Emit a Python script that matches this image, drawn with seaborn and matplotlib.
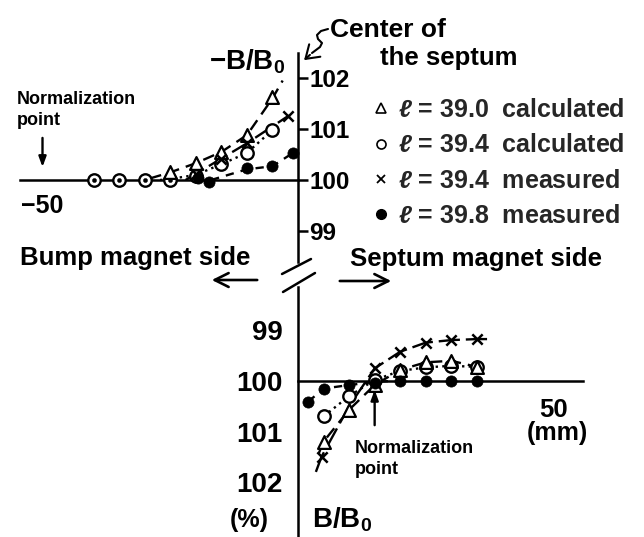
import matplotlib
matplotlib.use("Agg")
import matplotlib.pyplot as plt
import seaborn as sns
from matplotlib.lines import Line2D

# ---------------- data (x: mm from septum centre, y: % of B0) ----------------
# upper panel  (-B/B0, bump magnet side)
up_tri_x = [-25, -20, -15, -10, -5]
up_tri_y = [100.15, 100.33, 100.54, 100.88, 101.62]
up_cir_x = [-40, -35, -30, -25, -20, -15, -10, -5]
up_cir_y = [100.0, 100.0, 100.0, 100.0, 100.08, 100.31, 100.53, 100.98]
up_crs_x = [-20, -15, -10, -2]
up_crs_y = [100.12, 100.42, 100.72, 101.25]
up_dot_x = [-19.5, -17.5, -10, -5, -1]
up_dot_y = [100.04, 99.96, 100.23, 100.27, 100.53]
up_ctr_x = [-40, -35, -30, -25]          # dots seen inside the circles
up_ctr_y = [100.0, 100.0, 100.0, 100.0]

# fitted curves, upper panel
up_tri_cx = [-29, -25, -20, -15, -10, -5, -3]
up_tri_cy = [100.03, 100.15, 100.33, 100.55, 100.88, 101.6, 101.95]
up_cir_cx = [-27, -25, -20, -15, -10, -5]
up_cir_cy = [100.0, 100.02, 100.1, 100.31, 100.53, 100.98]
up_crs_cx = [-22, -20, -15, -10, -2]
up_crs_cy = [100.0, 100.12, 100.42, 100.72, 101.25]
up_dot_cx = [-17, -10, -5, -1]
up_dot_cy = [100.0, 100.21, 100.27, 100.53]

# lower panel  (B/B0, septum magnet side)
lo_tri_x = [5, 10, 15, 20, 25, 30, 35]
lo_tri_y = [101.2, 100.57, 100.08, 99.78, 99.63, 99.6, 99.72]
lo_cir_x = [5, 10, 15, 20, 25, 30, 35]
lo_cir_y = [100.7, 100.3, 99.98, 99.8, 99.73, 99.7, 99.72]
lo_crs_x = [4.6, 15, 20, 25, 30, 35]
lo_crs_y = [101.5, 99.75, 99.42, 99.24, 99.19, 99.17]
lo_dot_x = [2, 5, 10, 15, 20, 25, 30, 35]
lo_dot_y = [100.41, 100.15, 100.08, 100.03, 100.0, 100.0, 100.0, 100.0]

lo_tri_cx = [4, 5, 10, 15, 20, 25, 30, 35]
lo_tri_cy = [101.45, 101.2, 100.57, 100.08, 99.78, 99.63, 99.6, 99.72]
lo_cir_cx = [5, 10, 15, 20, 25, 30, 35]
lo_cir_cy = [100.7, 100.3, 99.98, 99.8, 99.73, 99.7, 99.72]
lo_crs_cx = [3.5, 4.6, 10, 15, 20, 25, 30, 35, 37.5]
lo_crs_cy = [101.8, 101.5, 100.5, 99.75, 99.42, 99.24, 99.19, 99.17, 99.17]
lo_dot_cx = [2, 5, 10, 15, 18]
lo_dot_cy = [100.41, 100.15, 100.08, 100.02, 100.0]

legend_labels = [r"$\ell$ = 39.0  calculated", r"$\ell$ = 39.4  calculated",
                 r"$\ell$ = 39.4  measured", r"$\ell$ = 39.8  measured"]
up_yticks = [99, 100, 101, 102]
lo_yticks = [99, 100, 101, 102]

# ---------------- styling ----------------
sns.set_style("white")
plt.rcParams["font.family"] = ["Liberation Sans", "DejaVu Sans"]
plt.rcParams["font.weight"] = "bold"
plt.rcParams["mathtext.fontset"] = "custom"
plt.rcParams["mathtext.rm"] = "Liberation Sans:bold"
plt.rcParams["mathtext.it"] = "Liberation Sans:italic:bold"
plt.rcParams["axes.unicode_minus"] = True

W, H = 644, 537
fig = plt.figure(figsize=(W / 100, H / 100), dpi=100)
PX_MM, X0 = 5.11, 298.0          # pixel scale of x axis, pixel of septum centre
UP_Y100, UP_PX = 180.0, 51.0
LO_Y100, LO_PX = 381.0, 50.5

ax1 = fig.add_axes([0, 0, 1, 1])
ax2 = fig.add_axes([0, 0, 1, 1])
for ax in (ax1, ax2):
    ax.set_facecolor("none")
    ax.set_xlim(-X0 / PX_MM, (W - X0) / PX_MM)
    ax.grid(False)
ax1.set_ylim(100 - (H - UP_Y100) / UP_PX, 100 + UP_Y100 / UP_PX)
ax2.set_ylim(100 + (H - LO_Y100) / LO_PX, 100 - LO_Y100 / LO_PX)

LW = 1.8
# upper axes spines
ax1.spines["top"].set_visible(False)
ax1.spines["left"].set_visible(False)
ax1.spines["right"].set_position(("data", 0))
ax1.spines["right"].set_bounds(98.39, 102.49)
ax1.spines["bottom"].set_position(("data", 100))
ax1.spines["bottom"].set_bounds(-54.5, 0)
for s in ("right", "bottom"):
    ax1.spines[s].set_linewidth(LW)
    ax1.spines[s].set_color("k")
ax1.yaxis.tick_right()
ax1.set_yticks(up_yticks)
ax1.set_yticklabels([str(v) for v in up_yticks])
ax1.tick_params(axis="y", direction="out", length=7, width=LW, labelsize=17.5, pad=1, colors="k")
ax1.set_xticks([-50, -10])
ax1.set_xticklabels(["\u221250", ""])
ax1.tick_params(axis="x", direction="inout", length=12, width=LW, labelsize=18, pad=4, colors="k")

# lower axes spines
ax2.spines["top"].set_visible(False)
ax2.spines["right"].set_visible(False)
ax2.spines["left"].set_position(("data", 0))
ax2.spines["left"].set_bounds(98.14, 103.1)
ax2.spines["bottom"].set_position(("data", 100))
ax2.spines["bottom"].set_bounds(0, 55.7)
for s in ("left", "bottom"):
    ax2.spines[s].set_linewidth(LW)
    ax2.spines[s].set_color("k")
ax2.set_yticks(lo_yticks)
ax2.set_yticklabels([str(v) for v in lo_yticks])
ax2.tick_params(axis="y", direction="out", length=8, width=LW, labelsize=20, pad=3, colors="k")
ax2.set_xticks([40, 50])
ax2.set_xticklabels(["", "50"])
ax2.tick_params(axis="x", direction="inout", length=12, width=LW, labelsize=18.5, pad=6, colors="k")

# ---------------- curves ----------------
TRI_LS = (0, (5, 3))
CIR_LS = (0, (1, 1.8))
CRS_LS = (0, (9, 2.5))
DOT_LS = (0, (3.5, 3))

def curve(ax, x, y, ls):
    sns.lineplot(x=x, y=y, ax=ax, color="k", linewidth=1.7, linestyle=ls,
                 sort=False, estimator=None, zorder=2)

for ax, sets in ((ax1, [(up_tri_cx, up_tri_cy, TRI_LS), (up_cir_cx, up_cir_cy, CIR_LS),
                        (up_crs_cx, up_crs_cy, CRS_LS), (up_dot_cx, up_dot_cy, DOT_LS)]),
                 (ax2, [(lo_tri_cx, lo_tri_cy, TRI_LS), (lo_cir_cx, lo_cir_cy, CIR_LS),
                        (lo_crs_cx, lo_crs_cy, CRS_LS), (lo_dot_cx, lo_dot_cy, DOT_LS)])):
    for x, y, ls in sets:
        curve(ax, x, y, ls)

# ---------------- markers ----------------
def marks(ax, x, y, kind):
    if kind == "tri":
        sns.scatterplot(x=x, y=y, ax=ax, marker="^", s=85, facecolor="white",
                        edgecolor="k", linewidth=1.6, zorder=4)
    elif kind == "cir":
        sns.scatterplot(x=x, y=y, ax=ax, marker="o", s=80, facecolor="white",
                        edgecolor="k", linewidth=1.7, zorder=4)
    elif kind == "crs":
        sns.scatterplot(x=x, y=y, ax=ax, marker="x", s=55, color="k",
                        linewidth=1.8, zorder=5)
    elif kind == "dot":
        sns.scatterplot(x=x, y=y, ax=ax, marker="o", s=65, color="k",
                        edgecolor="k", linewidth=0.5, zorder=5)
    elif kind == "ctr":
        sns.scatterplot(x=x, y=y, ax=ax, marker="o", s=9, color="k",
                        edgecolor="k", linewidth=0.3, zorder=6)

marks(ax1, up_cir_x, up_cir_y, "cir")
marks(ax1, up_ctr_x, up_ctr_y, "ctr")
marks(ax1, up_tri_x, up_tri_y, "tri")
marks(ax1, up_dot_x, up_dot_y, "dot")
marks(ax1, up_crs_x, up_crs_y, "crs")

marks(ax2, lo_dot_x, lo_dot_y, "dot")
marks(ax2, lo_cir_x, lo_cir_y, "cir")
marks(ax2, lo_tri_x, lo_tri_y, "tri")
marks(ax2, lo_crs_x, lo_crs_y, "crs")

# ---------------- legend ----------------
handles = [
    Line2D([], [], ls="none", marker="^", ms=6.5, mfc="white", mec="k", mew=1.2),
    Line2D([], [], ls="none", marker="o", ms=6.5, mfc="white", mec="k", mew=1.2),
    Line2D([], [], ls="none", marker="x", ms=5.5, color="k", mew=1.3),
    Line2D([], [], ls="none", marker="o", ms=7, color="k"),
]
fig.legend(handles, legend_labels, loc="upper left", bbox_to_anchor=(372 / W, 1 - 98 / H),
           frameon=False, fontsize=18, handlelength=0.7, handletextpad=0.35,
           labelspacing=0.45, borderaxespad=0, borderpad=0)

# ---------------- annotations ----------------
def P(x, y):
    return (x / W, 1 - y / H)

def txt(x, y, s, size, ha="left", va="baseline"):
    fig.text(*P(x, y), s, fontsize=size, ha=ha, va=va, color="k")

txt(17, 104, "Normalization", 13)
txt(17, 125, "point", 13)
txt(355, 453, "Normalization", 13)
txt(355, 474, "point", 13)
txt(20, 265, "Bump magnet side", 18.5)
txt(350, 266, "Septum magnet side", 18.5)
txt(330, 37, "Center of", 19)
txt(380, 65, "the septum", 18.5)
txt(209, 69, "\u2212B/B$_0$", 20)
txt(230, 527, "(%)", 18)
txt(312, 527, "B/B$_0$", 20)
txt(557, 440, "(mm)", 18, ha="center")

# normalization arrows (data coordinates)
ax1.annotate("", xy=(-50, 100.2), xytext=(-50, 100.88),
             arrowprops=dict(arrowstyle="-|>,head_length=0.6,head_width=0.22",
                             color="k", lw=1.7))
ax2.annotate("", xy=(15, 100.12), xytext=(15, 100.93),
             arrowprops=dict(arrowstyle="-|>,head_length=0.6,head_width=0.22",
                             color="k", lw=1.7))

# side arrows
def farrow(x0, y0, x1, y1):
    fig.add_artist(matplotlib.patches.FancyArrowPatch(
        P(x0, y0), P(x1, y1), transform=fig.transFigure,
        arrowstyle="->,head_length=0.5,head_width=0.25", mutation_scale=20,
        color="k", lw=1.9))

farrow(260, 280, 209, 280)
farrow(337, 281, 394, 281)

# axis break marks
for (xa, ya, xb, yb) in [(282, 274, 311, 259), (283, 292, 315, 273)]:
    fig.add_artist(Line2D([xa / W, xb / W], [1 - ya / H, 1 - yb / H],
                          transform=fig.transFigure, color="k", lw=1.8))

# squiggle arrow pointing at the septum centre
sq = [(328, 29), (321, 31), (317, 35), (318, 39), (322, 43), (320, 47), (312, 53)]
fig.add_artist(Line2D([p[0] / W for p in sq], [1 - p[1] / H for p in sq],
                      transform=fig.transFigure, color="k", lw=1.5))
fig.add_artist(matplotlib.patches.FancyArrowPatch(
    P(312, 53), P(302, 62), transform=fig.transFigure,
    arrowstyle="->,head_length=0.45,head_width=0.3", mutation_scale=20,
    color="k", lw=1.5))

fig.savefig("out.png", dpi=100)
